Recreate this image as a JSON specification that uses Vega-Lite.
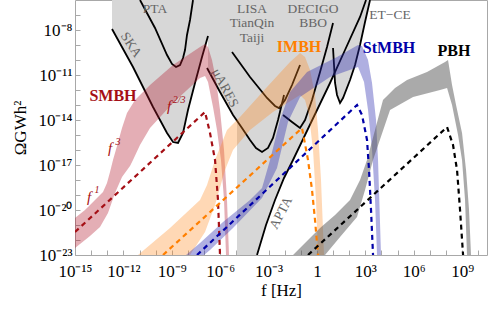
{
 "$schema": "https://vega.github.io/schema/vega-lite/v6.json",
 "width": 412, "height": 255,
 "autosize": {"type": "none"},
 "padding": {"left": 75, "top": 0, "right": 1, "bottom": 55},
 "background": "white",
 "config": {"view": {"stroke": "#a8a8a8", "strokeWidth": 1}, "font": "Liberation Serif"},
 "datasets": {
  "gray": [
   {"s":"G1","i":0,"f":1.97e-13,"o":1e-6},{"s":"G1","i":1,"f":1.97e-13,"o":1.17e-8},{"s":"G1","i":2,"f":3.94e-12,"o":3.41e-11},{"s":"G1","i":3,"f":6.85e-11,"o":7.36e-14},{"s":"G1","i":4,"f":5.06e-10,"o":1.36e-15},{"s":"G1","i":5,"f":1.19e-9,"o":3.41e-16},{"s":"G1","i":6,"f":2.43e-9,"o":2.93e-16},{"s":"G1","i":7,"f":4.97e-9,"o":1.36e-15},{"s":"G1","i":8,"f":1.01e-8,"o":4.64e-14},{"s":"G1","i":9,"f":2.75e-8,"o":2.93e-12},{"s":"G1","i":10,"f":7.46e-8,"o":1.58e-10},{"s":"G1","i":11,"f":1.76e-7,"o":3.98e-9},{"s":"G1","i":12,"f":1.76e-7,"o":1e-6},
   {"s":"G2","i":0,"f":1.76e-7,"o":1e-6},{"s":"G2","i":1,"f":1.76e-7,"o":2.93e-11},{"s":"G2","i":2,"f":9.77e-7,"o":7.36e-13},{"s":"G2","i":3,"f":6.24e-6,"o":2.15e-14},{"s":"G2","i":4,"f":1.10e-5,"o":8.58e-15},{"s":"G2","i":5,"f":1.10e-5,"o":1e-23},{"s":"G2","i":6,"f":1.92e-4,"o":1e-23},{"s":"G2","i":7,"f":6.93e-4,"o":1e-21},{"s":"G2","i":8,"f":2.51e-3,"o":4.64e-20},{"s":"G2","i":9,"f":9.06e-3,"o":1.36e-18},{"s":"G2","i":10,"f":3.27e-2,"o":2.15e-17},{"s":"G2","i":11,"f":0.182,"o":1e-15},{"s":"G2","i":12,"f":1.16,"o":6.31e-14},{"s":"G2","i":13,"f":6.44,"o":2.93e-12},{"s":"G2","i":14,"f":12.4,"o":1.58e-11},{"s":"G2","i":15,"f":13.2,"o":2.93e-12},{"s":"G2","i":16,"f":17.5,"o":4.64e-13},{"s":"G2","i":17,"f":26.9,"o":1.36e-13},{"s":"G2","i":18,"f":41.2,"o":2.93e-13},{"s":"G2","i":19,"f":112,"o":4.64e-12},{"s":"G2","i":20,"f":229,"o":4.64e-11},{"s":"G2","i":21,"f":467,"o":1e-9},{"s":"G2","i":22,"f":953,"o":3.41e-8},{"s":"G2","i":23,"f":1945,"o":1e-6}
  ],
  "detlines": [
   {"s":"PTA","i":0,"f":1.07e-11,"o":1e-6},{"s":"PTA","i":1,"f":9.12e-11,"o":1.36e-8},{"s":"PTA","i":2,"f":5.06e-10,"o":2.15e-10},{"s":"PTA","i":3,"f":1.03e-9,"o":5.41e-11},{"s":"PTA","i":4,"f":1.83e-9,"o":3.41e-11},{"s":"PTA","i":5,"f":3.24e-9,"o":4.64e-11},{"s":"PTA","i":6,"f":4.97e-9,"o":1.36e-10},{"s":"PTA","i":7,"f":6.61e-9,"o":4.64e-10},{"s":"PTA","i":8,"f":8.77e-9,"o":4.64e-9},{"s":"PTA","i":9,"f":1.35e-8,"o":4.64e-8},{"s":"PTA","i":10,"f":2.07e-8,"o":1e-6},
   {"s":"SKA","i":0,"f":1.97e-13,"o":1.17e-8},{"s":"SKA","i":1,"f":3.94e-12,"o":3.41e-11},{"s":"SKA","i":2,"f":6.85e-11,"o":7.36e-14},{"s":"SKA","i":3,"f":5.06e-10,"o":1.36e-15},{"s":"SKA","i":4,"f":1.19e-9,"o":3.41e-16},{"s":"SKA","i":5,"f":2.43e-9,"o":2.93e-16},{"s":"SKA","i":6,"f":4.97e-9,"o":1.36e-15},{"s":"SKA","i":7,"f":1.01e-8,"o":4.64e-14},{"s":"SKA","i":8,"f":2.75e-8,"o":2.93e-12},{"s":"SKA","i":9,"f":7.46e-8,"o":1.58e-10},{"s":"SKA","i":10,"f":1.76e-7,"o":3.98e-9},
   {"s":"muARES","i":0,"f":1.53e-7,"o":2.93e-11},{"s":"muARES","i":1,"f":9.77e-7,"o":7.36e-13},{"s":"muARES","i":2,"f":6.24e-6,"o":2.15e-14},{"s":"muARES","i":3,"f":2.25e-5,"o":2.93e-15},{"s":"muARES","i":4,"f":7.06e-5,"o":4.64e-16},{"s":"muARES","i":5,"f":1.66e-4,"o":1.36e-16},{"s":"muARES","i":6,"f":3.92e-4,"o":7.36e-17},{"s":"muARES","i":7,"f":9.23e-4,"o":1.36e-16},{"s":"muARES","i":8,"f":1.88e-3,"o":6.31e-16},{"s":"muARES","i":9,"f":3.85e-3,"o":1e-14},{"s":"muARES","i":10,"f":9.06e-3,"o":4.64e-13},
   {"s":"LISA","i":0,"f":5.41e-6,"o":3.41e-10},{"s":"LISA","i":1,"f":7.06e-5,"o":7.36e-12},{"s":"LISA","i":2,"f":8.00e-4,"o":2.93e-13},{"s":"LISA","i":3,"f":2.51e-3,"o":8.57e-14},{"s":"LISA","i":4,"f":4.44e-3,"o":6.31e-14},{"s":"LISA","i":5,"f":1.04e-2,"o":2.15e-13},{"s":"LISA","i":6,"f":2.84e-2,"o":2.15e-12},{"s":"LISA","i":7,"f":8.89e-2,"o":4.64e-11},
   {"s":"DECIGO","i":0,"f":7.85e-3,"o":2.15e-14},{"s":"DECIGO","i":1,"f":2.84e-2,"o":7.36e-15},{"s":"DECIGO","i":2,"f":8.89e-2,"o":2.93e-15},{"s":"DECIGO","i":3,"f":0.182,"o":1e-14},{"s":"DECIGO","i":4,"f":0.493,"o":2.15e-13},{"s":"DECIGO","i":5,"f":1.55,"o":1.58e-11},{"s":"DECIGO","i":6,"f":4.20,"o":7.36e-10},{"s":"DECIGO","i":7,"f":9.89,"o":2.93e-8},
   {"s":"APTA","i":0,"f":1.92e-4,"o":1e-23},{"s":"APTA","i":1,"f":6.93e-4,"o":1e-21},{"s":"APTA","i":2,"f":2.51e-3,"o":4.64e-20},{"s":"APTA","i":3,"f":9.06e-3,"o":1.36e-18},{"s":"APTA","i":4,"f":3.27e-2,"o":2.15e-17},{"s":"APTA","i":5,"f":0.182,"o":1e-15},{"s":"APTA","i":6,"f":1.16,"o":6.31e-14},{"s":"APTA","i":7,"f":6.44,"o":2.93e-12},{"s":"APTA","i":8,"f":54.8,"o":4.64e-10},{"s":"APTA","i":9,"f":467,"o":7.36e-8},{"s":"APTA","i":10,"f":1099,"o":1e-6},
   {"s":"ETCE","i":0,"f":9.89,"o":6.31e-10},{"s":"ETCE","i":1,"f":11.4,"o":4.64e-11},{"s":"ETCE","i":2,"f":13.2,"o":2.93e-12},{"s":"ETCE","i":3,"f":17.5,"o":4.64e-13},{"s":"ETCE","i":4,"f":26.9,"o":1.36e-13},{"s":"ETCE","i":5,"f":41.2,"o":2.93e-13},{"s":"ETCE","i":6,"f":112,"o":4.64e-12},{"s":"ETCE","i":7,"f":229,"o":4.64e-11},{"s":"ETCE","i":8,"f":467,"o":1e-9},{"s":"ETCE","i":9,"f":953,"o":3.41e-8},{"s":"ETCE","i":10,"f":1945,"o":1e-6}
  ],
  "bands": [
   {"s":"SMBH","i":0,"f":1e-15,"o":2.93e-21},{"s":"SMBH","i":1,"f":4.17e-15,"o":1e-20},{"s":"SMBH","i":2,"f":1.74e-14,"o":4.64e-20},{"s":"SMBH","i":3,"f":5.45e-14,"o":1.58e-19},{"s":"SMBH","i":4,"f":9.64e-14,"o":6.31e-19},{"s":"SMBH","i":5,"f":1.48e-13,"o":3.41e-18},{"s":"SMBH","i":6,"f":2.27e-13,"o":2.15e-17},{"s":"SMBH","i":7,"f":4.02e-13,"o":1.85e-16},{"s":"SMBH","i":8,"f":8.20e-13,"o":2.93e-15},{"s":"SMBH","i":9,"f":1.67e-12,"o":2.93e-14},{"s":"SMBH","i":10,"f":5.25e-12,"o":2.15e-13},{"s":"SMBH","i":11,"f":4.47e-11,"o":2.15e-12},{"s":"SMBH","i":12,"f":1.19e-9,"o":4.64e-11},{"s":"SMBH","i":13,"f":5.62e-8,"o":7.36e-10},{"s":"SMBH","i":14,"f":1.15e-7,"o":1.17e-9},{"s":"SMBH","i":15,"f":1.76e-7,"o":7.36e-10},{"s":"SMBH","i":16,"f":3.11e-7,"o":1e-10},{"s":"SMBH","i":17,"f":5.51e-7,"o":4.64e-12},{"s":"SMBH","i":18,"f":9.77e-7,"o":4.64e-14},{"s":"SMBH","i":19,"f":1.73e-6,"o":1e-16},{"s":"SMBH","i":20,"f":2.65e-6,"o":4.64e-20},{"s":"SMBH","i":21,"f":3.52e-6,"o":1e-23},{"s":"SMBH","i":22,"f":2.30e-6,"o":1e-23},{"s":"SMBH","i":23,"f":1.73e-6,"o":4.64e-20},{"s":"SMBH","i":24,"f":1.12e-6,"o":2.15e-17},{"s":"SMBH","i":25,"f":6.35e-7,"o":2.15e-15},{"s":"SMBH","i":26,"f":3.59e-7,"o":7.36e-14},{"s":"SMBH","i":27,"f":1.76e-7,"o":3.41e-12},{"s":"SMBH","i":28,"f":1.15e-7,"o":8.57e-12},{"s":"SMBH","i":29,"f":5.62e-8,"o":6.31e-12},{"s":"SMBH","i":30,"f":1.19e-9,"o":1.36e-13},{"s":"SMBH","i":31,"f":4.47e-11,"o":2.93e-15},{"s":"SMBH","i":32,"f":1.07e-11,"o":2.15e-16},{"s":"SMBH","i":33,"f":3.94e-12,"o":2.15e-17},{"s":"SMBH","i":34,"f":2.57e-12,"o":8.57e-18},{"s":"SMBH","i":35,"f":8.20e-13,"o":1.58e-18},{"s":"SMBH","i":36,"f":3.02e-13,"o":1.36e-19},{"s":"SMBH","i":37,"f":1.11e-13,"o":6.31e-21},{"s":"SMBH","i":38,"f":3.55e-14,"o":7.36e-22},{"s":"SMBH","i":39,"f":8.51e-15,"o":1.85e-22},{"s":"SMBH","i":40,"f":1e-15,"o":2.93e-23},
   {"s":"IMBH","i":0,"f":8.05e-12,"o":1e-23},{"s":"IMBH","i":1,"f":7.76e-10,"o":6.31e-22},{"s":"IMBH","i":2,"f":5.62e-8,"o":4.64e-20},{"s":"IMBH","i":3,"f":1.53e-7,"o":4.64e-19},{"s":"IMBH","i":4,"f":4.79e-7,"o":2.15e-17},{"s":"IMBH","i":5,"f":2.65e-6,"o":2.15e-15},{"s":"IMBH","i":6,"f":1.69e-5,"o":1.58e-14},{"s":"IMBH","i":7,"f":8.00e-4,"o":1.58e-12},{"s":"IMBH","i":8,"f":2.13e-2,"o":7.36e-11},{"s":"IMBH","i":9,"f":8.89e-2,"o":2.93e-10},{"s":"IMBH","i":10,"f":0.182,"o":1.58e-10},{"s":"IMBH","i":11,"f":0.371,"o":2.15e-11},{"s":"IMBH","i":12,"f":0.757,"o":4.64e-13},{"s":"IMBH","i":13,"f":1.16,"o":2.15e-15},{"s":"IMBH","i":14,"f":1.78,"o":1e-18},{"s":"IMBH","i":15,"f":2.74,"o":1e-23},{"s":"IMBH","i":16,"f":1.16,"o":1e-23},{"s":"IMBH","i":17,"f":0.873,"o":4.64e-20},{"s":"IMBH","i":18,"f":0.569,"o":1e-16},{"s":"IMBH","i":19,"f":0.321,"o":2.15e-14},{"s":"IMBH","i":20,"f":0.182,"o":2.15e-13},{"s":"IMBH","i":21,"f":8.89e-2,"o":4.64e-13},{"s":"IMBH","i":22,"f":1.88e-3,"o":3.41e-14},{"s":"IMBH","i":23,"f":7.06e-5,"o":2.15e-15},{"s":"IMBH","i":24,"f":6.24e-6,"o":1e-16},{"s":"IMBH","i":25,"f":2.00e-6,"o":4.64e-18},{"s":"IMBH","i":26,"f":4.79e-7,"o":2.15e-20},{"s":"IMBH","i":27,"f":1.15e-7,"o":3.41e-22},{"s":"IMBH","i":28,"f":1.35e-8,"o":1e-23},
   {"s":"StMBH","i":0,"f":7.62e-9,"o":1e-23},{"s":"StMBH","i":1,"f":5.62e-8,"o":6.31e-23},{"s":"StMBH","i":2,"f":1.50e-6,"o":1.58e-21},{"s":"StMBH","i":3,"f":7.06e-5,"o":4.64e-20},{"s":"StMBH","i":4,"f":3.92e-4,"o":2.93e-19},{"s":"StMBH","i":5,"f":1.23e-3,"o":2.15e-17},{"s":"StMBH","i":6,"f":5.12e-3,"o":1e-14},{"s":"StMBH","i":7,"f":2.13e-2,"o":7.36e-13},{"s":"StMBH","i":8,"f":0.242,"o":1.58e-11},{"s":"StMBH","i":9,"f":17.5,"o":1.58e-10},{"s":"StMBH","i":10,"f":351,"o":1e-9},{"s":"StMBH","i":11,"f":621,"o":8.57e-10},{"s":"StMBH","i":12,"f":1462,"o":1e-10},{"s":"StMBH","i":13,"f":2588,"o":2.93e-12},{"s":"StMBH","i":14,"f":4581,"o":1e-14},{"s":"StMBH","i":15,"f":6095,"o":2.15e-17},{"s":"StMBH","i":16,"f":9354,"o":1e-23},{"s":"StMBH","i":17,"f":5284,"o":1e-23},{"s":"StMBH","i":18,"f":3972,"o":4.64e-20},{"s":"StMBH","i":19,"f":2588,"o":1e-16},{"s":"StMBH","i":20,"f":1462,"o":4.64e-14},{"s":"StMBH","i":21,"f":826,"o":3.41e-12},{"s":"StMBH","i":22,"f":351,"o":3.41e-11},{"s":"StMBH","i":23,"f":6.44,"o":7.36e-12},{"s":"StMBH","i":24,"f":8.89e-2,"o":3.41e-13},{"s":"StMBH","i":25,"f":1.60e-2,"o":7.36e-15},{"s":"StMBH","i":26,"f":3.33e-3,"o":6.31e-18},{"s":"StMBH","i":27,"f":3.92e-4,"o":6.31e-20},{"s":"StMBH","i":28,"f":6.24e-6,"o":6.31e-22},{"s":"StMBH","i":29,"f":2.34e-7,"o":2.15e-23},{"s":"StMBH","i":30,"f":9.95e-8,"o":1e-23},
   {"s":"PBH","i":0,"f":3.27e-2,"o":1e-23},{"s":"PBH","i":1,"f":0.371,"o":1.36e-22},{"s":"PBH","i":2,"f":1.55,"o":6.31e-22},{"s":"PBH","i":3,"f":13.2,"o":4.64e-21},{"s":"PBH","i":4,"f":112,"o":4.64e-20},{"s":"PBH","i":5,"f":467,"o":1e-18},{"s":"PBH","i":6,"f":1268,"o":2.15e-17},{"s":"PBH","i":7,"f":3972,"o":2.15e-15},{"s":"PBH","i":8,"f":1.24e4,"o":2.15e-13},{"s":"PBH","i":9,"f":6.90e4,"o":1.36e-12},{"s":"PBH","i":10,"f":3.83e5,"o":4.64e-12},{"s":"PBH","i":11,"f":6.65e6,"o":1.58e-11},{"s":"PBH","i":12,"f":8.69e7,"o":7.36e-11},{"s":"PBH","i":13,"f":1.33e8,"o":1e-10},{"s":"PBH","i":14,"f":2.36e8,"o":2.15e-12},{"s":"PBH","i":15,"f":4.18e8,"o":1e-13},{"s":"PBH","i":16,"f":9.84e8,"o":1.36e-15},{"s":"PBH","i":17,"f":1.74e9,"o":4.64e-18},{"s":"PBH","i":18,"f":2.67e9,"o":1e-20},{"s":"PBH","i":19,"f":3.55e9,"o":1e-23},{"s":"PBH","i":20,"f":2.00e9,"o":1e-23},{"s":"PBH","i":21,"f":1.51e9,"o":4.64e-20},{"s":"PBH","i":22,"f":9.84e8,"o":2.15e-17},{"s":"PBH","i":23,"f":5.56e8,"o":1e-15},{"s":"PBH","i":24,"f":2.36e8,"o":1e-13},{"s":"PBH","i":25,"f":1.16e8,"o":1.36e-12},{"s":"PBH","i":26,"f":4.26e7,"o":1e-12},{"s":"PBH","i":27,"f":9.02e5,"o":3.41e-13},{"s":"PBH","i":28,"f":3.38e4,"o":4.64e-14},{"s":"PBH","i":29,"f":2985,"o":2.15e-17},{"s":"PBH","i":30,"f":953,"o":2.15e-19},{"s":"PBH","i":31,"f":304,"o":3.41e-21},{"s":"PBH","i":32,"f":26.9,"o":1.58e-22},{"s":"PBH","i":33,"f":3.16,"o":1e-23}
  ],
  "dashes": [
   {"s":"SMBH","i":0,"f":1e-15,"o":3.41e-22},{"s":"SMBH","i":1,"f":1.15e-7,"o":3.41e-14},{"s":"SMBH","i":2,"f":2.34e-7,"o":1.36e-15},{"s":"SMBH","i":3,"f":4.79e-7,"o":2.15e-17},{"s":"SMBH","i":4,"f":7.33e-7,"o":4.64e-20},{"s":"SMBH","i":5,"f":9.77e-7,"o":1e-23},
   {"s":"IMBH","i":0,"f":2.86e-10,"o":1e-23},{"s":"IMBH","i":1,"f":0.118,"o":2.93e-15},{"s":"IMBH","i":2,"f":0.279,"o":2.15e-17},{"s":"IMBH","i":3,"f":0.493,"o":2.15e-19},{"s":"IMBH","i":4,"f":0.757,"o":2.15e-21},{"s":"IMBH","i":5,"f":1.16,"o":1e-23},
   {"s":"StMBH","i":0,"f":3.66e-8,"o":1e-23},{"s":"StMBH","i":1,"f":304,"o":1e-13},{"s":"StMBH","i":2,"f":621,"o":2.15e-14},{"s":"StMBH","i":3,"f":1268,"o":4.64e-16},{"s":"StMBH","i":4,"f":1687,"o":4.64e-18},{"s":"StMBH","i":5,"f":2244,"o":1e-20},{"s":"StMBH","i":6,"f":2985,"o":1e-23},
   {"s":"PBH","i":0,"f":0.279,"o":1e-23},{"s":"PBH","i":1,"f":1.16e8,"o":3.41e-15},{"s":"PBH","i":2,"f":2.72e8,"o":2.15e-16},{"s":"PBH","i":3,"f":4.82e8,"o":4.64e-18},{"s":"PBH","i":4,"f":7.40e8,"o":1e-20},{"s":"PBH","i":5,"f":1.14e9,"o":1e-23}
  ],
  "detlabels": [
   {"t":"PTA","f":9.12e-11,"o":2.51e-7},{"t":"LISA","f":9.40e-5,"o":2.51e-7},{"t":"TianQin","f":9.40e-5,"o":2.93e-8},{"t":"Taiji","f":9.40e-5,"o":2.93e-9},{"t":"DECIGO","f":0.569,"o":2.51e-7},{"t":"BBO","f":0.569,"o":2.93e-8},{"t":"ET−CE","f":3.38e4,"o":1e-7},
   {"t":"SKA","f":2.96e-12,"o":1e-9},{"t":"μARES","f":2.00e-6,"o":1.36e-12},{"t":"APTA","f":5.90e-3,"o":6.31e-21}
  ],
  "names": [
   {"t":"SMBH","f":2.27e-13,"o":3.98e-13},{"t":"IMBH","f":7.71e-2,"o":7.36e-10},{"t":"StMBH","f":2.93e4,"o":6.31e-10},{"t":"PBH","f":3.14e8,"o":3.98e-10}
  ],
  "pows": [
   {"t":"f","f":6.73e-10,"o":8.57e-14},{"t":"2/3","f":2.81e-9,"o":2.15e-13},{"t":"f","f":1.48e-13,"o":1.36e-16},{"t":"3","f":4.63e-13,"o":3.41e-16},{"t":"f","f":7.38e-15,"o":7.36e-20},{"t":"1","f":2.31e-14,"o":2.15e-19}
  ]
 },
 "encoding": {
  "x": {"field": "f", "type": "quantitative",
   "scale": {"type": "log", "domain": [1e-15, 3.47e10], "nice": false},
   "axis": {"values": [1e-15,1e-14,1e-13,1e-12,1e-11,1e-10,1e-9,1e-8,1e-7,1e-6,1e-5,1e-4,1e-3,1e-2,1e-1,1,10,100,1e3,1e4,1e5,1e6,1e7,1e8,1e9,1e10],
    "labelExpr": "abs(round(log(datum.value)/LN10)) % 3 != 0 ? '' : (round(log(datum.value)/LN10) == 0 ? '1' : '10' + replace(replace(replace(replace(replace(replace(replace(replace(replace(replace(replace('' + round(log(datum.value)/LN10), '-', '⁻'), regexp('0','g'), '⁰'), regexp('1','g'), '¹'), regexp('2','g'), '²'), regexp('3','g'), '³'), regexp('4','g'), '⁴'), regexp('5','g'), '⁵'), regexp('6','g'), '⁶'), regexp('7','g'), '⁷'), regexp('8','g'), '⁸'), regexp('9','g'), '⁹'))",
    "title": "f [Hz]", "domain": false, "grid": false, "tickSize": -5, "tickColor": "#a8a8a8",
    "labelFont": "Liberation Serif", "labelFontSize": 17, "labelColor": "#000000", "labelPadding": 13, "labelFlush": false, "labelOverlap": false,
    "titleFont": "Liberation Serif", "titleFontSize": 17, "titleFontWeight": "normal", "titleColor": "#000000", "titlePadding": 3}},
  "y": {"field": "o", "type": "quantitative",
   "scale": {"type": "log", "domain": [1e-23, 1e-6], "nice": false},
   "axis": {"values": [1e-23,1e-22,1e-21,1e-20,1e-19,1e-18,1e-17,1e-16,1e-15,1e-14,1e-13,1e-12,1e-11,1e-10,1e-9,1e-8,1e-7],
    "labelExpr": "(round(log(datum.value)/LN10) % 3 + 3) % 3 != 1 ? '' : '10' + replace(replace(replace(replace(replace(replace(replace(replace(replace(replace(replace('' + round(log(datum.value)/LN10), '-', '⁻'), regexp('0','g'), '⁰'), regexp('1','g'), '¹'), regexp('2','g'), '²'), regexp('3','g'), '³'), regexp('4','g'), '⁴'), regexp('5','g'), '⁵'), regexp('6','g'), '⁶'), regexp('7','g'), '⁷'), regexp('8','g'), '⁸'), regexp('9','g'), '⁹')",
    "title": "ΩGWh²", "domain": false, "grid": false, "tickSize": -5, "tickColor": "#a8a8a8",
    "labelFont": "Liberation Serif", "labelFontSize": 17, "labelColor": "#000000", "labelPadding": 8, "labelOverlap": false, "labelFlush": false,
    "titleFont": "Liberation Serif", "titleFontSize": 17, "titleFontWeight": "normal", "titleColor": "#000000", "titlePadding": 8}}
 },
 "layer": [
  {"data": {"name": "gray"},
   "mark": {"type": "line", "interpolate": "linear-closed", "fill": "#d7d7d7", "strokeWidth": 0, "strokeOpacity": 0, "clip": true},
   "encoding": {"detail": {"field": "s"}, "order": {"field": "i", "type": "quantitative"}}},
  {"data": {"name": "detlines"},
   "mark": {"type": "line", "color": "#000000", "strokeWidth": 1.8, "clip": true},
   "encoding": {"detail": {"field": "s"}, "order": {"field": "i", "type": "quantitative"}}},
  {"data": {"name": "detlabels"}, "transform": [{"filter": "indexof(['SKA','μARES','APTA'], datum.t) < 0"}],
   "mark": {"type": "text", "font": "Liberation Serif", "fontSize": 13.5, "color": "#666666"},
   "encoding": {"text": {"field": "t"}}},
  {"data": {"name": "detlabels"}, "transform": [{"filter": "datum.t == 'SKA'"}],
   "mark": {"type": "text", "font": "Liberation Serif", "fontSize": 13.5, "color": "#666666", "angle": 57},
   "encoding": {"text": {"field": "t"}}},
  {"data": {"name": "detlabels"}, "transform": [{"filter": "datum.t == 'μARES'"}],
   "mark": {"type": "text", "font": "Liberation Serif", "fontSize": 13.5, "color": "#666666", "angle": 62},
   "encoding": {"text": {"field": "t"}}},
  {"data": {"name": "detlabels"}, "transform": [{"filter": "datum.t == 'APTA'"}],
   "mark": {"type": "text", "font": "Liberation Serif", "fontSize": 13.5, "color": "#666666", "angle": 297},
   "encoding": {"text": {"field": "t"}}},
  {"data": {"name": "bands"}, "transform": [{"filter": "datum.s == 'SMBH'"}],
   "mark": {"type": "line", "interpolate": "linear-closed", "fill": "#b2182b", "fillOpacity": 0.35, "strokeWidth": 0, "strokeOpacity": 0, "clip": true},
   "encoding": {"order": {"field": "i", "type": "quantitative"}}},
  {"data": {"name": "bands"}, "transform": [{"filter": "datum.s == 'IMBH'"}],
   "mark": {"type": "line", "interpolate": "linear-closed", "fill": "#ff8a1f", "fillOpacity": 0.33, "strokeWidth": 0, "strokeOpacity": 0, "clip": true},
   "encoding": {"order": {"field": "i", "type": "quantitative"}}},
  {"data": {"name": "bands"}, "transform": [{"filter": "datum.s == 'StMBH'"}],
   "mark": {"type": "line", "interpolate": "linear-closed", "fill": "#2c2cb0", "fillOpacity": 0.38, "strokeWidth": 0, "strokeOpacity": 0, "clip": true},
   "encoding": {"order": {"field": "i", "type": "quantitative"}}},
  {"data": {"name": "bands"}, "transform": [{"filter": "datum.s == 'PBH'"}],
   "mark": {"type": "line", "interpolate": "linear-closed", "fill": "#555555", "fillOpacity": 0.5, "strokeWidth": 0, "strokeOpacity": 0, "clip": true},
   "encoding": {"order": {"field": "i", "type": "quantitative"}}},
  {"data": {"name": "dashes"},
   "mark": {"type": "line", "strokeWidth": 2.2, "strokeDash": [5, 4], "clip": true},
   "encoding": {"color": {"field": "s", "type": "nominal", "scale": {"domain": ["SMBH", "IMBH", "StMBH", "PBH"], "range": ["#a50f15", "#ff7f00", "#0000a8", "#000000"]}, "legend": null},
    "detail": {"field": "s"}, "order": {"field": "i", "type": "quantitative"}}},
  {"data": {"name": "names"},
   "mark": {"type": "text", "font": "Liberation Serif", "fontSize": 16, "fontWeight": "bold"},
   "encoding": {"text": {"field": "t"}, "color": {"field": "t", "type": "nominal", "scale": {"domain": ["SMBH", "IMBH", "StMBH", "PBH"], "range": ["#b5121b", "#ff7f00", "#1f1fa8", "#000000"]}, "legend": null}}},
  {"data": {"name": "pows"}, "transform": [{"filter": "datum.t == 'f'"}],
   "mark": {"type": "text", "font": "Liberation Serif", "fontSize": 15, "fontStyle": "italic", "color": "#a50f15"},
   "encoding": {"text": {"field": "t"}}},
  {"data": {"name": "pows"}, "transform": [{"filter": "datum.t != 'f'"}],
   "mark": {"type": "text", "font": "Liberation Serif", "fontSize": 10, "fontStyle": "italic", "color": "#a50f15"},
   "encoding": {"text": {"field": "t"}}}
 ]
}
